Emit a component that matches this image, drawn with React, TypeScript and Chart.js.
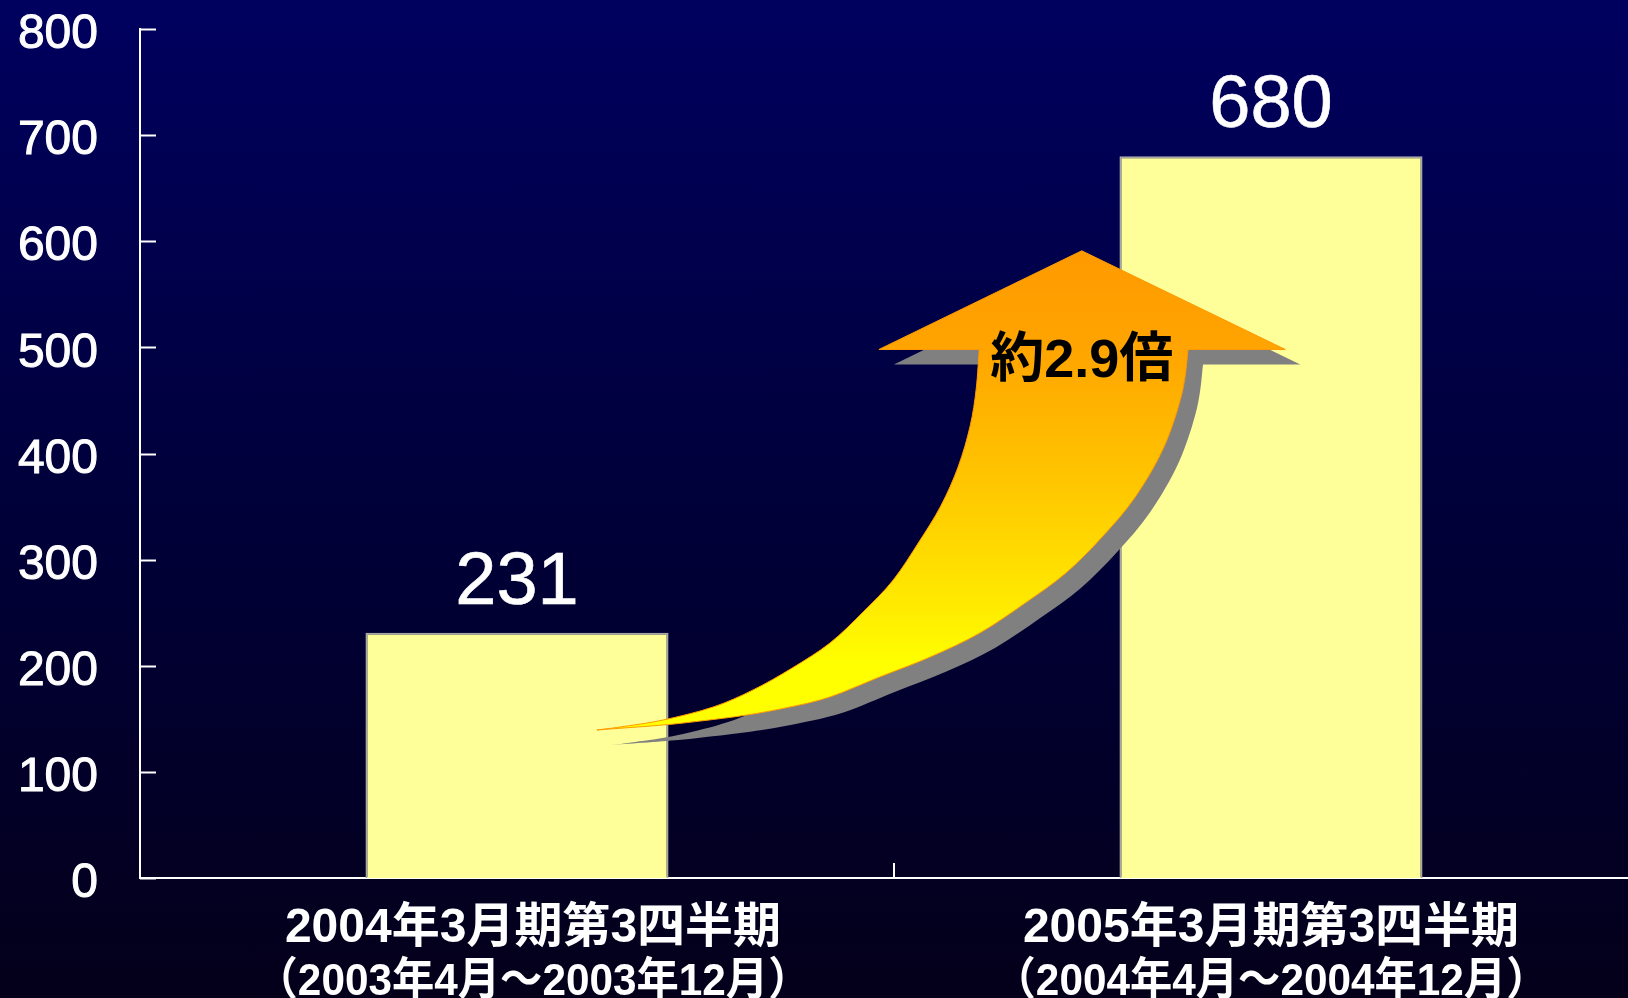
import { useEffect, useRef } from 'react';
import { Chart, registerables } from 'chart.js';

Chart.register(...registerables);

// ---- data ----
const categoryTitles = ['2004年3月期第3四半期', '2005年3月期第3四半期'];
const categoryPeriods = ['（2003年4月～2003年12月）', '（2004年4月～2004年12月）'];
const salesValues = [231, 680];
const yTickValues = [0, 100, 200, 300, 400, 500, 600, 700, 800];
const growthText = '約2.9倍';

// ---- arrow annotation geometry, in data space: [category position, value] ----
const arrowTip = [0.749, 591];
const arrowLeftCorner = [0.48, 498];
const arrowRightCorner = [1.019, 498];
const arrowInnerJoin = [0.613, 498];
const arrowOuterJoin = [0.89, 498];
const arrowTail = [0.106, 139.5];
const arrowInnerCurve = [
  [0.609, 460.8], [0.601, 425.9], [0.585, 387.3], [0.562, 350.5], [0.533, 316.6],
  [0.499, 280.8], [0.459, 250.6], [0.415, 221.4], [0.365, 197.9], [0.313, 177.2],
  [0.26, 161.1], [0.194, 148.9], [0.137, 142.3],
];
const arrowOuterCurve = [
  [0.882, 457], [0.858, 406.1], [0.82, 359], [0.776, 321.3], [0.728, 287.4],
  [0.674, 259.1], [0.614, 230.9], [0.548, 208.2], [0.481, 189.4], [0.415, 170.6],
  [0.362, 161.1], [0.305, 153.6], [0.243, 147.9], [0.194, 144.2],
];

// ---- style ----
const SANS = '"Liberation Sans", Arial, "Noto Sans CJK JP", sans-serif';
const categoryLabelShift = [16, 0];

function smoothThrough(ctx: CanvasRenderingContext2D, pts: number[][]) {
  for (let k = 0; k < pts.length - 1; k++) {
    const p0 = pts[k - 1] || pts[k];
    const p1 = pts[k];
    const p2 = pts[k + 1];
    const p3 = pts[k + 2] || pts[k + 1];
    ctx.bezierCurveTo(
      p1[0] + (p2[0] - p0[0]) / 6, p1[1] + (p2[1] - p0[1]) / 6,
      p2[0] - (p3[0] - p1[0]) / 6, p2[1] - (p3[1] - p1[1]) / 6,
      p2[0], p2[1]
    );
  }
}

const decorPlugin = {
  id: 'decor',
  afterDatasetsDraw(chart: any) {
    const { ctx, scales } = chart;
    const xs = scales.x;
    const ys = scales.y;
    const P = (d: number[]) => [xs.getPixelForValue(d[0]), ys.getPixelForValue(d[1])];

    // value labels above bars
    const meta = chart.getDatasetMeta(0);
    ctx.save();
    ctx.fillStyle = '#ffffff';
    ctx.strokeStyle = '#ffffff';
    ctx.lineWidth = 0.6;
    ctx.font = `74px ${SANS}`;
    ctx.textAlign = 'center';
    ctx.textBaseline = 'alphabetic';
    meta.data.forEach((bar: any, i: number) => {
      ctx.fillText(String(salesValues[i]), bar.x, bar.y - 29);
      ctx.strokeText(String(salesValues[i]), bar.x, bar.y - 29);
    });
    ctx.restore();

    // curved growth arrow
    const inner = [arrowTail, ...arrowInnerCurve.slice().reverse(), arrowInnerJoin].map(P);
    const outer = [arrowOuterJoin, ...arrowOuterCurve, arrowTail].map(P);
    const head = [arrowLeftCorner, arrowTip, arrowRightCorner].map(P);
    const trace = (dx: number, dy: number) => {
      const sh = (p: number[]) => [p[0] + dx, p[1] + dy];
      const a = inner.map(sh);
      const b = outer.map(sh);
      const h = head.map(sh);
      ctx.beginPath();
      ctx.moveTo(a[0][0], a[0][1]);
      smoothThrough(ctx, a);
      h.forEach((p) => ctx.lineTo(p[0], p[1]));
      ctx.lineTo(b[0][0], b[0][1]);
      smoothThrough(ctx, b);
      ctx.closePath();
    };
    ctx.save();
    trace(15, 15);
    ctx.fillStyle = '#808080';
    ctx.fill();
    trace(0, 0);
    const tipY = head[1][1];
    const tailY = inner[0][1];
    const g = ctx.createLinearGradient(0, tipY, 0, tailY);
    g.addColorStop(0, '#FF9A00');
    g.addColorStop(0.2, '#FFA400');
    g.addColorStop(0.5, '#FFC800');
    g.addColorStop(0.75, '#FFEC00');
    g.addColorStop(0.86, '#FFFF00');
    g.addColorStop(1, '#FFFF00');
    ctx.fillStyle = g;
    ctx.fill();
    ctx.strokeStyle = '#FF9900';
    ctx.lineWidth = 1;
    ctx.stroke();

    // growth text
    ctx.fillStyle = '#000000';
    ctx.font = `bold 54px ${SANS}`;
    ctx.textAlign = 'center';
    ctx.textBaseline = 'alphabetic';
    ctx.fillText(growthText, head[1][0], ys.getPixelForValue(472));
    ctx.restore();
  },
  afterDraw(chart: any) {
    const { ctx, chartArea, scales } = chart;
    const xs = scales.x;
    const ys = scales.y;
    ctx.save();
    ctx.strokeStyle = '#ffffff';
    ctx.lineWidth = 2;
    // inward y ticks
    yTickValues.forEach((v) => {
      const py = Math.round(ys.getPixelForValue(v)) + 0.5;
      ctx.beginPath();
      ctx.moveTo(chartArea.left, py);
      ctx.lineTo(chartArea.left + 16, py);
      ctx.stroke();
    });
    // category divider tick
    for (let i = 0; i < categoryTitles.length - 1; i++) {
      const px = Math.round(xs.getPixelForValue(i + 0.5));
      ctx.beginPath();
      ctx.moveTo(px, chartArea.bottom);
      ctx.lineTo(px, chartArea.bottom - 15);
      ctx.stroke();
    }
    // category labels
    ctx.fillStyle = '#ffffff';
    ctx.textAlign = 'center';
    ctx.textBaseline = 'alphabetic';
    categoryTitles.forEach((t, i) => {
      const px = xs.getPixelForValue(i) + categoryLabelShift[i];
      ctx.font = `bold 48px ${SANS}`;
      ctx.fillText(t, px, chartArea.bottom + 64);
      ctx.save();
      ctx.translate(px, chartArea.bottom + 117);
      ctx.scale(0.94, 1);
      ctx.font = `bold 45px ${SANS}`;
      ctx.fillText(categoryPeriods[i], 0, 0);
      ctx.restore();
    });
    ctx.restore();
  },
};

export default function App() {
  const ref = useRef<HTMLCanvasElement>(null);
  useEffect(() => {
    document.body.style.margin = '0';
    document.body.style.overflow = 'hidden';
    const chart = new Chart(ref.current as HTMLCanvasElement, {
      type: 'bar',
      data: {
        labels: categoryTitles,
        datasets: [
          {
            data: salesValues,
            backgroundColor: '#FFFF99',
            borderColor: '#A8A8A8',
            borderWidth: 2,
            barPercentage: 0.402,
            categoryPercentage: 1,
          },
        ],
      },
      options: {
        animation: false,
        responsive: false,
        devicePixelRatio: 1,
        layout: { padding: { top: 29, right: 12, left: 0, bottom: 0 } },
        plugins: { legend: { display: false }, tooltip: { enabled: false } },
        scales: {
          x: {
            z: 1,
            grid: { display: false, drawTicks: false },
            border: { display: true, color: '#ffffff', width: 2 },
            ticks: { display: false },
            afterFit: (s: any) => {
              s.height = 120;
              s.paddingLeft = 0;
              s.paddingRight = 0;
            },
          },
          y: {
            min: 0,
            max: 800,
            grid: { display: false, drawTicks: false },
            border: { display: true, color: '#ffffff', width: 2 },
            ticks: {
              stepSize: 100,
              color: '#ffffff',
              textStrokeColor: '#ffffff',
              textStrokeWidth: 1,
              padding: 42,
              labelOffset: 6,
              font: { family: SANS, size: 48 },
            },
            afterFit: (s: any) => {
              s.width = 140;
              s.paddingTop = 0;
              s.paddingBottom = 0;
            },
          },
        },
      },
      plugins: [decorPlugin],
    });
    return () => chart.destroy();
  }, []);
  return (
    <div
      style={{
        position: 'relative',
        width: 1628,
        height: 998,
        overflow: 'hidden',
        background: 'linear-gradient(#00005f 0%, #00003a 50%, #04001a 100%)',
      }}
    >
      <canvas ref={ref} width={1660} height={998} style={{ display: 'block' }} />
    </div>
  );
}
